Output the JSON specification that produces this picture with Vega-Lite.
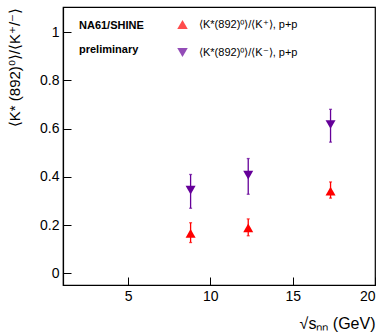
{
  "$schema": "https://vega.github.io/schema/vega-lite/v6.json",
  "width": 312,
  "height": 278,
  "autosize": "none",
  "padding": {"left": 63, "top": 7, "right": 9, "bottom": 50},
  "background": "white",
  "config": {
    "font": "Liberation Sans",
    "view": {"stroke": "#000", "strokeWidth": 1.2},
    "axis": {
      "grid": false,
      "domainColor": "#000",
      "domainWidth": 1.2,
      "tickColor": "#000",
      "tickSize": -8,
      "tickWidth": 1,
      "labelColor": "#000",
      "labelFontSize": 14,
      "labelFont": "Liberation Sans",
      "titleFont": "Liberation Sans",
      "titleFontWeight": "normal",
      "titleColor": "#000"
    }
  },
  "title": {
    "text": ["NA61/SHINE", "preliminary"],
    "orient": "top",
    "anchor": "start",
    "frame": "group",
    "offset": 0,
    "dx": 16,
    "dy": 48,
    "baseline": "top",
    "lineHeight": 24,
    "fontSize": 11,
    "fontWeight": "bold",
    "font": "Liberation Sans",
    "color": "#000"
  },
  "data": {
    "values": [
      {"sqrts": 8.8, "ratio": 0.166, "lo": 0.128, "hi": 0.21, "series": "⟨K*(892)⁰⟩/⟨K⁺⟩, p+p"},
      {"sqrts": 12.3, "ratio": 0.189, "lo": 0.156, "hi": 0.226, "series": "⟨K*(892)⁰⟩/⟨K⁺⟩, p+p"},
      {"sqrts": 17.3, "ratio": 0.341, "lo": 0.312, "hi": 0.379, "series": "⟨K*(892)⁰⟩/⟨K⁺⟩, p+p"},
      {"sqrts": 8.8, "ratio": 0.345, "lo": 0.27, "hi": 0.41, "series": "⟨K*(892)⁰⟩/⟨K⁻⟩, p+p"},
      {"sqrts": 12.3, "ratio": 0.407, "lo": 0.328, "hi": 0.476, "series": "⟨K*(892)⁰⟩/⟨K⁻⟩, p+p"},
      {"sqrts": 17.3, "ratio": 0.617, "lo": 0.544, "hi": 0.68, "series": "⟨K*(892)⁰⟩/⟨K⁻⟩, p+p"}
    ]
  },
  "layer": [
    {
      "mark": {"type": "errorbar", "ticks": {"size": 3}, "thickness": 1.3},
      "encoding": {
        "x": {"field": "sqrts", "type": "quantitative", "title": "√sₙₙ (GeV)"},
        "y": {"field": "lo", "type": "quantitative", "title": "⟨K* (892)⁰⟩/⟨K⁺/⁻⟩"},
        "y2": {"field": "hi"},
        "color": {"field": "series", "type": "nominal",
          "scale": {"domain": ["⟨K*(892)⁰⟩/⟨K⁺⟩, p+p", "⟨K*(892)⁰⟩/⟨K⁻⟩, p+p"], "range": ["#ff0000", "#650099"]}}
      }
    },
    {
      "mark": {"type": "point", "filled": true, "opacity": 1, "size": 100},
      "encoding": {
        "x": {
          "field": "sqrts", "type": "quantitative",
          "scale": {"domain": [1.05, 20], "nice": false, "zero": false},
          "axis": {
            "values": [5, 10, 15, 20],
            "labelPadding": 12,
            "title": "√sₙₙ (GeV)",
            "titleFontSize": 16,
            "titleAnchor": "end",
            "titleAlign": "right",
            "titleX": 312,
            "titleY": 38,
            "titleBaseline": "middle"
          }
        },
        "y": {
          "field": "ratio", "type": "quantitative",
          "scale": {"domain": [-0.048, 1.104], "nice": false, "zero": false},
          "axis": {
            "values": [0, 0.2, 0.4, 0.6, 0.8, 1],
            "format": "~g",
            "labelPadding": 12,
            "title": "⟨K* (892)⁰⟩/⟨K⁺/⁻⟩",
            "titleFontSize": 15,
            "titleX": -49,
            "titleY": 60,
            "titleAlign": "center",
            "titleBaseline": "middle",
            "titleAngle": -90
          }
        },
        "color": {
          "field": "series", "type": "nominal",
          "scale": {"domain": ["⟨K*(892)⁰⟩/⟨K⁺⟩, p+p", "⟨K*(892)⁰⟩/⟨K⁻⟩, p+p"], "range": ["#ff0000", "#650099"]},
          "legend": {
            "orient": "none",
            "legendX": 114,
            "legendY": 12,
            "title": null,
            "padding": 0,
            "labelFontSize": 11,
            "labelFont": "Liberation Sans",
            "labelColor": "#000",
            "labelOffset": 11,
            "rowPadding": 16,
            "symbolSize": 110,
            "symbolStrokeWidth": 0
          }
        },
        "shape": {
          "field": "series", "type": "nominal",
          "scale": {"domain": ["⟨K*(892)⁰⟩/⟨K⁺⟩, p+p", "⟨K*(892)⁰⟩/⟨K⁻⟩, p+p"], "range": ["triangle-up", "triangle-down"]}
        }
      }
    }
  ]
}
